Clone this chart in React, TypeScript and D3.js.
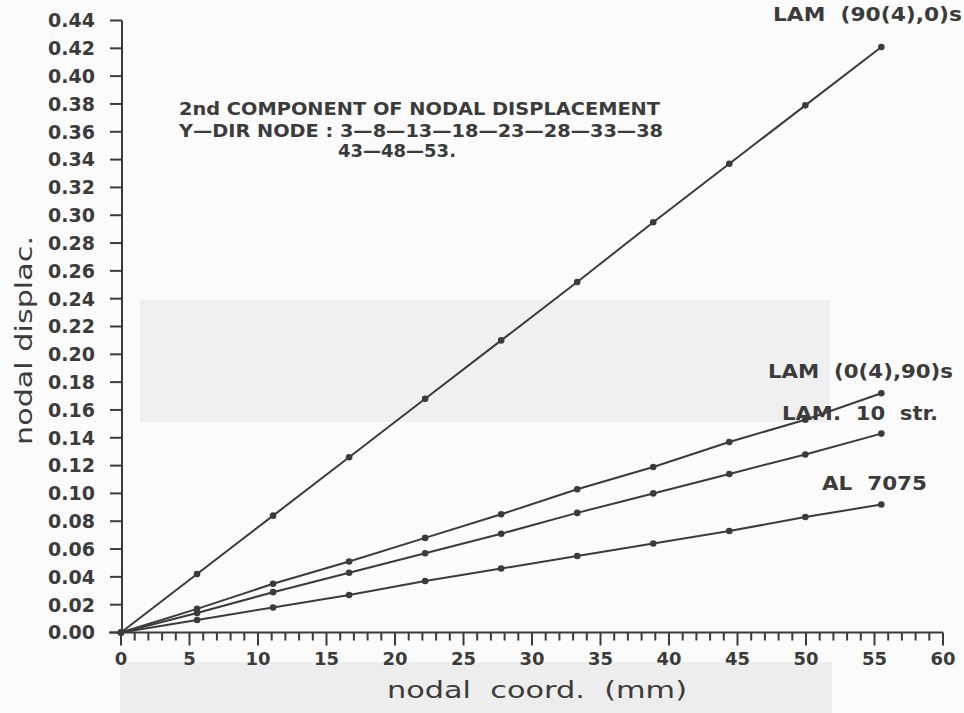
import React from "react";
import * as d3 from "d3";

// Node coordinates along the edge (mm)
const nodeCoords = [0, 5.55, 11.1, 16.65, 22.2, 27.75, 33.3, 38.85, 44.4, 49.95, 55.5];

// Second displacement component at each node, per laminate
const lam90 = [0, 0.042, 0.084, 0.126, 0.168, 0.210, 0.252, 0.295, 0.337, 0.379, 0.421];
const lam0 = [0, 0.017, 0.035, 0.051, 0.068, 0.085, 0.103, 0.119, 0.137, 0.153, 0.172];
const lam10 = [0, 0.014, 0.029, 0.043, 0.057, 0.071, 0.086, 0.100, 0.114, 0.128, 0.143];
const al7075 = [0, 0.009, 0.018, 0.027, 0.037, 0.046, 0.055, 0.064, 0.073, 0.083, 0.092];

const seriesNames = ["LAM  (90(4),0)s", "LAM  (0(4),90)s", "LAM.  10  str.", "AL  7075"];

const yTicks = [0, 0.02, 0.04, 0.06, 0.08, 0.1, 0.12, 0.14, 0.16, 0.18, 0.2, 0.22, 0.24, 0.26, 0.28, 0.3, 0.32, 0.34, 0.36, 0.38, 0.4, 0.42, 0.44];
const xMajorTicks = [0, 5, 10, 15, 20, 25, 30, 35, 40, 45, 50, 55, 60];
const xMinorTicks = d3.range(0, 61, 1);

const titleLines = [
  "2nd COMPONENT OF NODAL DISPLACEMENT",
  "Y\u2014DIR NODE : 3\u20148\u201413\u201418\u201423\u201428\u201433\u201438",
  "43\u201448\u201453.",
];

const ink = "#3b3b3b";
const font = "'DejaVu Sans', sans-serif";

export default function App() {
  const x = d3.scaleLinear().domain([0, 60]).range([121, 943]);
  const y = d3.scaleLinear().domain([0, 0.44]).range([632.5, 20.5]);

  const series = [lam90, lam0, lam10, al7075];
  const line = d3
    .line<number>()
    .x((_, i) => x(nodeCoords[i]))
    .y((d) => y(d));

  // label placement for each curve: [left x, baseline y, width]
  const labelBoxes: [number, number, number][] = [
    [773, 21, 189],
    [768, 378, 185],
    [782, 420, 156],
    [822, 490, 105],
  ];

  return (
    <svg
      width={964}
      height={713}
      style={{ position: "absolute", left: 0, top: 0, display: "block", background: "#fbfbfb" }}
    >
      {/* paper tone */}
      <rect x={0} y={0} width={964} height={713} fill="#fbfbfb" />
      <rect x={140} y={300} width={690} height={122} fill="#f0f0f0" />
      <rect x={120} y={662} width={712} height={51} fill="#ededed" />

      {/* y axis */}
      <line x1={122} x2={122} y1={y(0.44)} y2={y(0)} stroke={ink} strokeWidth={2} />
      {yTicks.map((t) => (
        <g key={"y" + t}>
          <line x1={110} x2={122} y1={y(t)} y2={y(t)} stroke={ink} strokeWidth={2} />
          <text
            x={95}
            y={y(t)}
            dy="0.36em"
            textAnchor="end"
            fontFamily={font}
            fontWeight="bold"
            fontSize={19}
            fill={ink}
          >
            {t.toFixed(2)}
          </text>
        </g>
      ))}

      {/* x axis */}
      <line x1={109} x2={x(60)} y1={y(0)} y2={y(0)} stroke={ink} strokeWidth={2} />
      {xMinorTicks.map((t) => (
        <line
          key={"m" + t}
          x1={x(t)}
          x2={x(t)}
          y1={y(0)}
          y2={y(0) + (t % 5 === 0 ? 13 : 8)}
          stroke={ink}
          strokeWidth={2}
        />
      ))}
      {xMajorTicks.map((t) => (
        <text
          key={"x" + t}
          x={x(t)}
          y={665}
          textAnchor="middle"
          fontFamily={font}
          fontWeight="bold"
          fontSize={18}
          fill={ink}
        >
          {t}
        </text>
      ))}

      {/* axis titles */}
      <text
        x={387}
        y={698}
        fontFamily={font}
        fontSize={23}
        fill={ink}
        textLength={300}
        lengthAdjust="spacingAndGlyphs"
        style={{ whiteSpace: "pre" }}
      >
        {"nodal  coord.  (mm)"}
      </text>
      <text
        transform="translate(32,445) rotate(-90)"
        fontFamily={font}
        fontSize={23}
        fill={ink}
        textLength={209}
        lengthAdjust="spacingAndGlyphs"
      >
        nodal displac.
      </text>

      {/* caption */}
      <text x={179} y={115} fontFamily={font} fontWeight="bold" fontSize={18} fill={ink}
        textLength={481} lengthAdjust="spacingAndGlyphs">
        {titleLines[0]}
      </text>
      <text x={179} y={136.5} fontFamily={font} fontWeight="bold" fontSize={18} fill={ink}
        textLength={484} lengthAdjust="spacingAndGlyphs">
        {titleLines[1]}
      </text>
      <text x={397} y={157} textAnchor="middle" fontFamily={font} fontWeight="bold" fontSize={18} fill={ink}>
        {titleLines[2]}
      </text>

      {/* curves */}
      {series.map((vals, k) => (
        <g key={"s" + k}>
          <path d={line(vals) ?? ""} fill="none" stroke={ink} strokeWidth={2} />
          {vals.map((v, i) => (
            <circle key={i} cx={x(nodeCoords[i])} cy={y(v)} r={3.3} fill={ink} />
          ))}
        </g>
      ))}

      {/* curve labels */}
      {seriesNames.map((n, k) => (
        <text
          key={"l" + k}
          x={labelBoxes[k][0]}
          y={labelBoxes[k][1]}
          fontFamily={font}
          fontWeight="bold"
          fontSize={20}
          fill={ink}
          textLength={labelBoxes[k][2]}
          lengthAdjust="spacingAndGlyphs"
          style={{ whiteSpace: "pre" }}
        >
          {n}
        </text>
      ))}
    </svg>
  );
}
